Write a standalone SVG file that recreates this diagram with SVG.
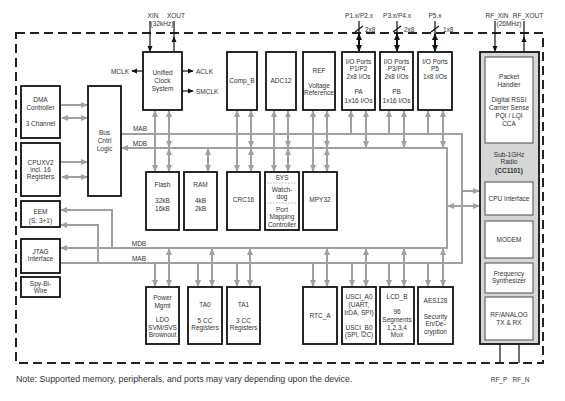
<svg xmlns="http://www.w3.org/2000/svg" width="565" height="401" viewBox="0 0 565 401">
<style>
.box{fill:#fff;stroke:#111;stroke-width:1.8}
.ibox{fill:#fff;stroke:#666;stroke-width:1.2}
.t{font-family:"Liberation Sans",Arial,sans-serif;font-size:6.5px;fill:#333;text-anchor:middle}
.s{text-anchor:start}
.e{text-anchor:end}
.bus{fill:none;stroke:#a0a0a0;stroke-width:2}
.ext{fill:none;stroke:#111;stroke-width:1.2}
.thk{fill:none;stroke:#111;stroke-width:2}
.dot{stroke:#999;stroke-width:0.8;stroke-dasharray:1.5 1.5}
</style>
<defs>
<marker id="ga" viewBox="0 0 8 8" refX="7" refY="4" markerWidth="7" markerHeight="7" markerUnits="userSpaceOnUse" orient="auto-start-reverse"><path d="M0,0.5 L8,4 L0,7.5 z" fill="#a0a0a0"/></marker>
<marker id="ab" viewBox="0 0 8 8" refX="7" refY="4" markerWidth="6" markerHeight="6" markerUnits="userSpaceOnUse" orient="auto-start-reverse"><path d="M0,0.5 L8,4 L0,7.5 z" fill="#111"/></marker>
<marker id="abl" viewBox="0 0 8 8" refX="7" refY="4" markerWidth="7" markerHeight="7" markerUnits="userSpaceOnUse" orient="auto-start-reverse"><path d="M0,0.5 L8,4 L0,7.5 z" fill="#111"/></marker>
</defs>
<rect width="565" height="401" fill="#fff"/>
<rect id="border" x="16" y="33" width="527" height="330" fill="none" stroke="#222" stroke-width="2" stroke-dasharray="9 5"/>

<g id="connectors">
<path class="bus" d="M121,134 H462 V263 H60"/>
<path class="bus" d="M122,148 H447 V248 H61" marker-start="url(#ga)" marker-end="url(#ga)"/>
<path class="bus" d="M112,248 V210 H61" marker-end="url(#ga)"/>
<path class="bus" d="M98,263 V225 H61" marker-end="url(#ga)"/>
<path class="bus" d="M61,105 H87" marker-end="url(#ga)"/>
<path class="bus" d="M62,118 H87" marker-start="url(#ga)" marker-end="url(#ga)"/>
<path class="bus" d="M61,162 H87" marker-end="url(#ga)"/>
<path class="bus" d="M62,177 H87" marker-start="url(#ga)" marker-end="url(#ga)"/>
<path class="bus" d="M462,191 H479" marker-end="url(#ga)"/>
<path class="bus" d="M448,206 H479" marker-start="url(#ga)" marker-end="url(#ga)"/>
<g marker-end="url(#ga)">
<path class="bus" d="M155,134 V111"/><path class="bus" d="M155,134 V171"/>
<path class="bus" d="M237,134 V111"/><path class="bus" d="M237,134 V171"/>
<path class="bus" d="M274,134 V111"/><path class="bus" d="M274,134 V171"/>
<path class="bus" d="M313,134 V111"/><path class="bus" d="M313,134 V171"/>
<path class="bus" d="M351,134 V111"/>
<path class="bus" d="M389,134 V111"/>
<path class="bus" d="M428,134 V111"/>
<path class="bus" d="M155,263 V286"/>
<path class="bus" d="M198,263 V286"/>
<path class="bus" d="M237,263 V286"/>
<path class="bus" d="M313,263 V286"/>
<path class="bus" d="M352,263 V286"/>
<path class="bus" d="M389,263 V286"/>
<path class="bus" d="M428,263 V286"/>
</g>
<g marker-start="url(#ga)" marker-end="url(#ga)">
<path class="bus" d="M169,111 V147"/><path class="bus" d="M169,149 V171"/>
<path class="bus" d="M251,111 V147"/><path class="bus" d="M251,149 V171"/>
<path class="bus" d="M288,111 V147"/><path class="bus" d="M288,149 V171"/>
<path class="bus" d="M327,111 V147"/><path class="bus" d="M327,149 V171"/>
<path class="bus" d="M366,111 V147"/>
<path class="bus" d="M404,111 V147"/>
<path class="bus" d="M443,111 V147"/>
<path class="bus" d="M208,149 V171"/>
<path class="bus" d="M169,249 V286"/>
<path class="bus" d="M212,249 V286"/>
<path class="bus" d="M250,249 V286"/>
<path class="bus" d="M327,249 V286"/>
<path class="bus" d="M366,249 V286"/>
<path class="bus" d="M404,249 V286"/>
<path class="bus" d="M443,249 V286"/>
</g>
<path class="ext" d="M150,21 V51" marker-end="url(#ab)"/>
<path class="ext" d="M174,52 V37" marker-end="url(#ab)"/>
<path class="ext" d="M174,38 V21"/>
<path class="ext" d="M143,71 H132" marker-end="url(#ab)"/>
<path class="ext" d="M182,71 H193" marker-end="url(#ab)"/>
<path class="ext" d="M182,91 H193" marker-end="url(#ab)"/>
<path class="ext" d="M495,21 V51" marker-end="url(#ab)"/>
<path class="ext" d="M524,52 V37" marker-end="url(#ab)"/>
<path class="ext" d="M524,38 V21"/>
<path class="ext" d="M359,21 V35 M355,32 L363,26"/>
<path class="thk" d="M359,34 V51" marker-start="url(#abl)" marker-end="url(#abl)"/>
<path class="ext" d="M397,21 V35 M393,32 L401,26"/>
<path class="thk" d="M397,34 V51" marker-start="url(#abl)" marker-end="url(#abl)"/>
<path class="ext" d="M435,21 V35 M431,32 L439,26"/>
<path class="thk" d="M435,34 V51" marker-start="url(#abl)" marker-end="url(#abl)"/>
<path class="ext" d="M500,344 V363 M519,344 V363"/>
</g>

<g id="labels">
<text class="t" x="153" y="18">XIN</text>
<text class="t" x="176" y="18">XOUT</text>
<text class="t" x="162" y="26">(32kHz)</text>
<text class="t e" x="129" y="73.5">MCLK</text>
<text class="t s" x="196" y="73.5">ACLK</text>
<text class="t s" x="196" y="93.5">SMCLK</text>
<text class="t" x="359" y="18">P1.x/P2.x</text>
<text class="t" x="397" y="18">P3.x/P4.x</text>
<text class="t" x="435" y="18">P5.x</text>
<text class="t s" x="365" y="31.5">2x8</text>
<text class="t s" x="404" y="31.5">2x8</text>
<text class="t s" x="443" y="31.5">1x8</text>
<text class="t" x="497" y="18">RF_XIN</text>
<text class="t" x="528" y="18">RF_XOUT</text>
<text class="t" x="509" y="26">(26MHz)</text>
<text class="t" x="140" y="131">MAB</text>
<text class="t" x="140" y="145.5">MDB</text>
<text class="t" x="139" y="246">MDB</text>
<text class="t" x="139" y="260.5">MAB</text>
<text class="t" x="499" y="381.5">RF_P</text>
<text class="t" x="521" y="381.5">RF_N</text>
<text class="t s" x="16" y="381.5" style="font-size:8.8px">Note: Supported memory, peripherals, and ports may vary depending upon the device.</text>
</g>

<g id="dma"><rect class="box" x="21" y="86" width="39" height="52"/><text class="t" x="40.5" y="102">DMA</text><text class="t" x="40.5" y="110">Controller</text><text class="t" x="40.5" y="126">3 Channel</text></g>
<g id="cpu"><rect class="box" x="21" y="143" width="39" height="53"/><text class="t" x="40.5" y="165">CPUXV2</text><text class="t" x="40.5" y="172">incl. 16</text><text class="t" x="40.5" y="179">Registers</text></g>
<g id="eem"><rect class="box" x="21" y="201" width="39" height="26"/><text class="t" x="40.5" y="214">EEM</text><text class="t" x="40.5" y="223">(S: 3+1)</text></g>
<g id="jtag"><rect class="box" x="21" y="239" width="39" height="34"/><text class="t" x="40.5" y="254">JTAG</text><text class="t" x="40.5" y="261">Interface</text></g>
<g id="spy"><rect class="box" x="21" y="277" width="39" height="20"/><text class="t" x="40.5" y="285.5">Spy-Bi-</text><text class="t" x="40.5" y="293">Wire</text></g>
<g id="buscntrl"><rect class="box" x="88" y="86" width="33" height="110"/><text class="t" x="104.5" y="135">Bus</text><text class="t" x="104.5" y="143">Cntrl</text><text class="t" x="104.5" y="150.5">Logic</text></g>

<g id="clock"><rect class="box" x="143" y="52" width="39" height="58"/><text class="t" x="162.5" y="75">Unified</text><text class="t" x="162.5" y="83">Clock</text><text class="t" x="162.5" y="91">System</text></g>
<g id="compb"><rect class="box" x="227" y="52" width="30" height="58"/><text class="t" x="242" y="83">Comp_B</text></g>
<g id="adc12"><rect class="box" x="266" y="52" width="30" height="58"/><text class="t" x="281" y="83">ADC12</text></g>
<g id="ref"><rect class="box" x="303" y="52" width="32" height="58"/><text class="t" x="319" y="73">REF</text><text class="t" x="319" y="87.5">Voltage</text><text class="t" x="319" y="94.5">Reference</text></g>
<g id="p12"><rect class="box" x="342" y="52" width="33" height="58"/><text class="t" x="358.5" y="64">I/O Ports</text><text class="t" x="358.5" y="71">P1/P2</text><text class="t" x="358.5" y="78.5">2x8 I/Os</text><text class="t" x="358.5" y="94">PA</text><text class="t" x="358.5" y="102.5">1x16 I/Os</text></g>
<g id="p34"><rect class="box" x="380" y="52" width="33" height="58"/><text class="t" x="396.5" y="64">I/O Ports</text><text class="t" x="396.5" y="71">P3/P4</text><text class="t" x="396.5" y="78.5">2x8 I/Os</text><text class="t" x="396.5" y="94">PB</text><text class="t" x="396.5" y="102.5">1x16 I/Os</text></g>
<g id="p5"><rect class="box" x="418" y="52" width="34" height="58"/><text class="t" x="435" y="64">I/O Ports</text><text class="t" x="435" y="71">P5</text><text class="t" x="435" y="78.5">1x8 I/Os</text></g>

<g id="flash"><rect class="box" x="146" y="172" width="33" height="58"/><text class="t" x="162.5" y="187">Flash</text><text class="t" x="162.5" y="203">32kB</text><text class="t" x="162.5" y="211">16kB</text></g>
<g id="ram"><rect class="box" x="184" y="172" width="33" height="58"/><text class="t" x="200.5" y="187">RAM</text><text class="t" x="200.5" y="203">4kB</text><text class="t" x="200.5" y="211">2kB</text></g>
<g id="crc16"><rect class="box" x="227" y="172" width="33" height="58"/><text class="t" x="243.5" y="202">CRC16</text></g>
<g id="sys"><rect class="box" x="265" y="172" width="34" height="58"/><text class="t" x="282" y="179.5">SYS</text><line class="dot" x1="267" y1="183" x2="297" y2="183"/><text class="t" x="282" y="191.5">Watch-</text><text class="t" x="282" y="199">dog</text><line class="dot" x1="267" y1="203" x2="297" y2="203"/><text class="t" x="282" y="211.5">Port</text><text class="t" x="282" y="219">Mapping</text><text class="t" x="282" y="226.5">Controller</text></g>
<g id="mpy32"><rect class="box" x="303" y="172" width="34" height="58"/><text class="t" x="320" y="202">MPY32</text></g>

<g id="power"><rect class="box" x="146" y="287" width="33" height="57"/><text class="t" x="162.5" y="299.5">Power</text><text class="t" x="162.5" y="307.5">Mgmt</text><text class="t" x="162.5" y="321.5">LDO</text><text class="t" x="162.5" y="329.5">SVM/SVS</text><text class="t" x="162.5" y="337">Brownout</text></g>
<g id="ta0"><rect class="box" x="188" y="287" width="34" height="57"/><text class="t" x="205" y="306.5">TA0</text><text class="t" x="205" y="322.5">5 CC</text><text class="t" x="205" y="330">Registers</text></g>
<g id="ta1"><rect class="box" x="227" y="287" width="33" height="57"/><text class="t" x="243.5" y="306.5">TA1</text><text class="t" x="243.5" y="322.5">3 CC</text><text class="t" x="243.5" y="330">Registers</text></g>
<g id="rtc"><rect class="box" x="303" y="287" width="34" height="57"/><text class="t" x="320" y="317.5">RTC_A</text></g>
<g id="usci"><rect class="box" x="342" y="287" width="34" height="57"/><text class="t" x="359" y="298.5">USCI_A0</text><text class="t" x="359" y="306.5">(UART,</text><text class="t" x="359" y="314.5">IrDA, SPI)</text><text class="t" x="359" y="329.5">USCI_B0</text><text class="t" x="359" y="336.5">(SPI, I2C)</text></g>
<g id="lcd"><rect class="box" x="380" y="287" width="34" height="57"/><text class="t" x="397" y="298.5">LCD_B</text><text class="t" x="397" y="314">96</text><text class="t" x="397" y="321.5">Segments</text><text class="t" x="397" y="329.5">1,2,3,4</text><text class="t" x="397" y="336.5">Mux</text></g>
<g id="aes"><rect class="box" x="418" y="287" width="35" height="57"/><text class="t" x="435.5" y="303">AES128</text><text class="t" x="435.5" y="318.5">Security</text><text class="t" x="435.5" y="326">En/De-</text><text class="t" x="435.5" y="333.5">cryption</text></g>

<g id="radio">
<rect x="480" y="52" width="59" height="292" fill="#d6d6d6" stroke="#111" stroke-width="1.8"/>
<rect class="ibox" x="485" y="57" width="48" height="86"/>
<text class="t" x="509" y="79">Packet</text><text class="t" x="509" y="87">Handler</text>
<text class="t" x="509" y="102">Digital RSSI</text><text class="t" x="509" y="110">Carrier Sense</text><text class="t" x="509" y="118">PQI / LQI</text><text class="t" x="509" y="126">CCA</text>
<text class="t" x="509" y="156.5">Sub-1GHz</text><text class="t" x="509" y="164">Radio</text><text class="t" x="509" y="172.5" font-weight="bold">(CC1101)</text>
<rect class="ibox" x="485" y="182" width="48" height="33"/><text class="t" x="509" y="201">CPU Interface</text>
<rect class="ibox" x="485" y="221" width="48" height="37"/><text class="t" x="509" y="242">MODEM</text>
<rect class="ibox" x="485" y="263" width="48" height="30"/><text class="t" x="509" y="276">Frequency</text><text class="t" x="509" y="283">Synthesizer</text>
<rect class="ibox" x="485" y="297" width="48" height="43"/><text class="t" x="509" y="316.5">RF/ANALOG</text><text class="t" x="509" y="324.5">TX &amp; RX</text>
</g>
</svg>
